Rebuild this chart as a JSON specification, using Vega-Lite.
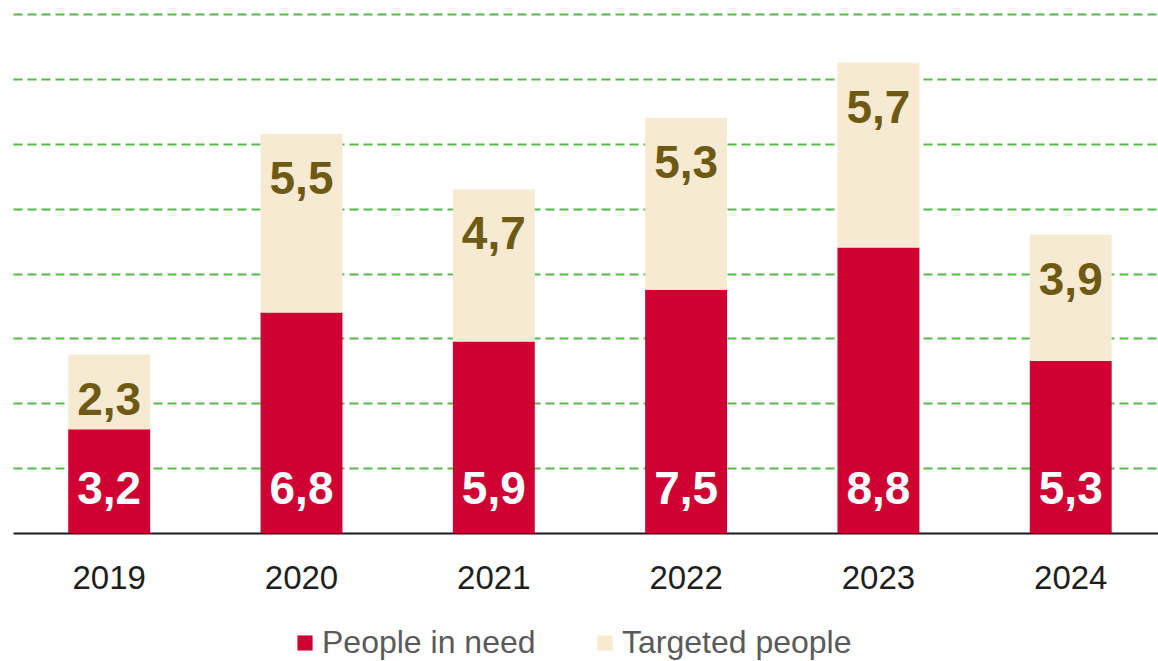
{
  "$schema": "https://vega.github.io/schema/vega-lite/v6.json",
  "width": 1145,
  "height": 519,
  "autosize": {"type": "none"},
  "padding": {"left": 13, "top": 14, "right": 0, "bottom": 128},
  "background": "white",
  "config": {
    "view": {"stroke": null},
    "locale": {"number": {"decimal": ",", "thousands": ".", "grouping": [3], "currency": ["", " €"]}}
  },
  "data": {
    "values": [
      {"year": "2019", "series": "People in need", "value": 3.2, "rank": 1},
      {"year": "2019", "series": "Targeted people", "value": 2.3, "rank": 2},
      {"year": "2020", "series": "People in need", "value": 6.8, "rank": 1},
      {"year": "2020", "series": "Targeted people", "value": 5.5, "rank": 2},
      {"year": "2021", "series": "People in need", "value": 5.9, "rank": 1},
      {"year": "2021", "series": "Targeted people", "value": 4.7, "rank": 2},
      {"year": "2022", "series": "People in need", "value": 7.5, "rank": 1},
      {"year": "2022", "series": "Targeted people", "value": 5.3, "rank": 2},
      {"year": "2023", "series": "People in need", "value": 8.8, "rank": 1},
      {"year": "2023", "series": "Targeted people", "value": 5.7, "rank": 2},
      {"year": "2024", "series": "People in need", "value": 5.3, "rank": 1},
      {"year": "2024", "series": "Targeted people", "value": 3.9, "rank": 2}
    ]
  },
  "transform": [
    {"joinaggregate": [{"op": "sum", "field": "value", "as": "total"}], "groupby": ["year"]}
  ],
  "encoding": {
    "x": {
      "field": "year",
      "type": "ordinal",
      "scale": {"paddingInner": 0.574, "paddingOuter": 0.264, "align": 0.544},
      "axis": {
        "title": null,
        "labelAngle": 0,
        "ticks": false,
        "domainColor": "#1a1a1a",
        "domainWidth": 2,
        "labelFont": "Liberation Sans",
        "labelFontSize": 33,
        "labelColor": "#1e1e1e",
        "labelPadding": 29
      }
    }
  },
  "layer": [
    {
      "mark": {"type": "bar"},
      "encoding": {
        "y": {
          "field": "value",
          "type": "quantitative",
          "stack": "zero",
          "scale": {"domain": [0, 16], "nice": false},
          "axis": {
            "title": null,
            "labels": false,
            "ticks": false,
            "domain": false,
            "values": [2, 4, 6, 8, 10, 12, 14, 16],
            "grid": true,
            "gridColor": "#55bb48",
            "gridWidth": 2,
            "gridDash": [9, 5]
          }
        },
        "color": {
          "field": "series",
          "type": "nominal",
          "scale": {"domain": ["People in need", "Targeted people"], "range": ["#cf0032", "#f6ebd2"]},
          "legend": {
            "title": null,
            "orient": "none",
            "direction": "horizontal",
            "legendX": 276,
            "legendY": 613,
            "padding": 0,
            "symbolType": "square",
            "symbolSize": 230,
            "symbolStrokeWidth": 0,
            "symbolOffset": 0,
            "labelFont": "Liberation Sans",
            "labelFontSize": 32,
            "labelColor": "#5a5a5a",
            "labelOffset": 1,
            "columnPadding": 53,
            "labelLimit": 400
          }
        },
        "order": {"field": "rank", "type": "quantitative"}
      }
    },
    {
      "transform": [{"filter": "datum.series === 'People in need'"}],
      "mark": {"type": "text", "font": "Liberation Sans", "fontWeight": "bold", "fontSize": 46, "color": "white", "baseline": "middle", "dy": -43},
      "encoding": {
        "y": {"datum": 0, "type": "quantitative"},
        "text": {"field": "value", "type": "quantitative", "format": ".1f"}
      }
    },
    {
      "transform": [{"filter": "datum.series === 'Targeted people'"}],
      "mark": {"type": "text", "font": "Liberation Sans", "fontWeight": "bold", "fontSize": 46, "color": "#6f5a14", "baseline": "middle", "dy": 46},
      "encoding": {
        "y": {"field": "total", "type": "quantitative"},
        "text": {"field": "value", "type": "quantitative", "format": ".1f"}
      }
    }
  ]
}
